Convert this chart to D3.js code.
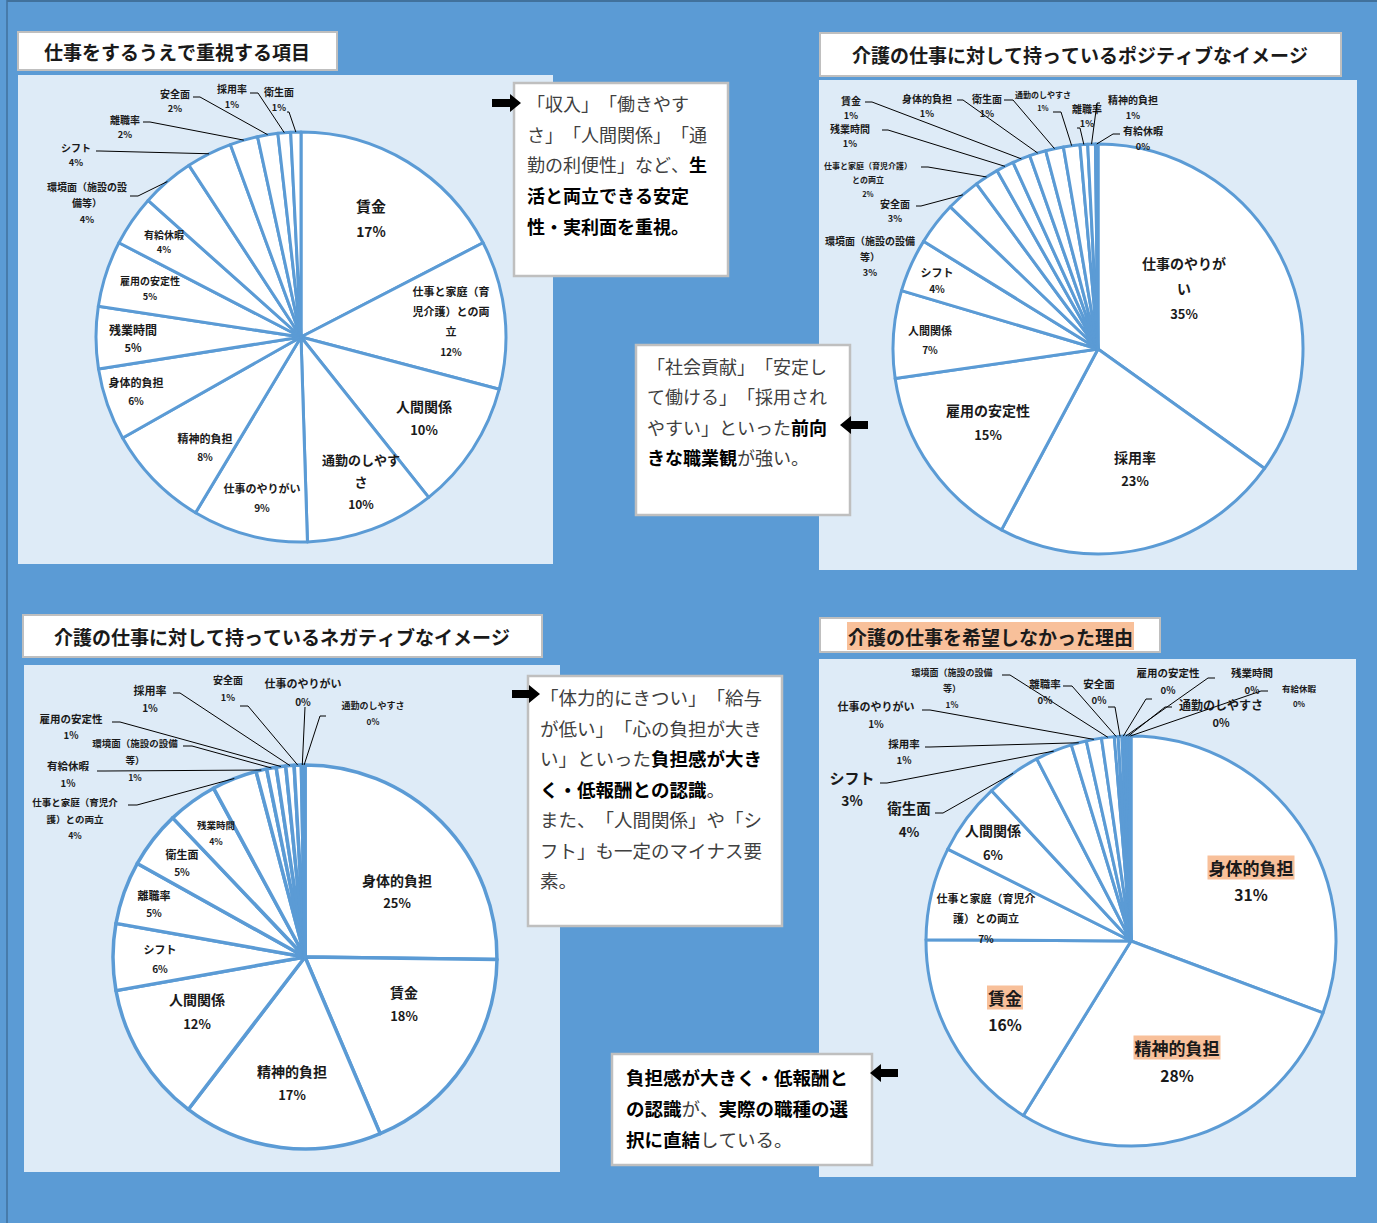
<!DOCTYPE html>
<html><head><meta charset="utf-8">
<script src="https://cdn.jsdelivr.net/npm/d3@7"></script>
<style>
body{margin:0;background:#5B9BD5;}
svg{display:block;font-family:"Noto Sans CJK JP","Noto Sans",sans-serif;text-spacing-trim:space-all;}
svg text{text-spacing-trim:space-all;font-kerning:none;}
</style>
</head><body><svg id="c" width="1377" height="1223"></svg>
<script>
// ---------------- DATA ----------------
const importanceTitle = "仕事をするうえで重視する項目";
const importanceCategories = ["賃金","仕事と家庭（育児介護）との両立","人間関係","通勤のしやすさ","仕事のやりがい","精神的負担","身体的負担","残業時間","雇用の安定性","有給休暇","環境面（施設の設備等）","シフト","離職率","安全面","採用率","衛生面"];
const importanceValues = [17.4,11.7,10.2,10.2,9.1,8.2,5.7,4.9,5.2,4.0,4.2,3.6,2.2,1.6,1.0,0.8];

const positiveTitle = "介護の仕事に対して持っているポジティブなイメージ";
const positiveCategories = ["仕事のやりがい","採用率","雇用の安定性","人間関係","シフト","環境面（施設の設備等）","安全面","仕事と家庭（育児介護）との両立","残業時間","賃金","身体的負担","衛生面","通勤のしやすさ","離職率","精神的負担","有給休暇"];
const positiveValues = [34.9,22.9,14.9,6.9,4.2,3.4,2.7,1.9,1.4,1.4,1.3,1.4,1.3,0.6,0.6,0.2];

const negativeTitle = "介護の仕事に対して持っているネガティブなイメージ";
const negativeCategories = ["身体的負担","賃金","精神的負担","人間関係","シフト","離職率","衛生面","残業時間","仕事と家庭（育児介護）との両立","有給休暇","環境面（施設の設備等）","雇用の安定性","採用率","安全面","仕事のやりがい","通勤のしやすさ"];
const negativeValues = [25.2,18.4,16.8,11.8,5.6,5.3,4.8,4.2,3.8,0.9,0.8,0.8,0.7,0.6,0.15,0.15];

const reasonTitle = "介護の仕事を希望しなかった理由";
const reasonCategories = ["身体的負担","精神的負担","賃金","仕事と家庭（育児介護）との両立","人間関係","衛生面","シフト","採用率","仕事のやりがい","環境面（施設の設備等）","離職率","安全面","雇用の安定性","残業時間","通勤のしやすさ","有給休暇"];
const reasonValues = [30.7,28.1,16.3,7.3,5.7,4.3,2.9,1.2,1.2,1.0,0.3,0.3,0.2,0.2,0.2,0.1];

// ---------------- LAYOUT ----------------
const C = {
  pageBlue:"#5B9BD5", plotBg:"#DEEBF7", slice:"#FFFFFF", sliceStroke:"#5B9BD5",
  boxBorder:"#BFBFBF", text:"#1a1a1a", soft:"#404040", highlight:"#F8C09A", frame:"#41719C"
};
const WF = "仕事と家庭（育児介護）との両立", ENV = "環境面（施設の設備等）";

const charts = [
 { title: importanceTitle, cats: importanceCategories, vals: importanceValues,
   plot:[18,75,535,489], tbox:[18,32,319,38], tx:44, ty:51,
   cx:301, cy:337, r:205, sw:3,
   labels:{
    "賃金":{x:371,y:205,size:15,lh:26},
    [WF]:{lines:["仕事と家庭（育","児介護）との両","立"],x:451,y:291,size:11,lh:20},
    "人間関係":{x:424,y:406,size:14,lh:23},
    "通勤のしやすさ":{lines:["通勤のしやす","さ"],x:361,y:459,size:13,lh:22},
    "仕事のやりがい":{x:262,y:488,size:11,lh:19},
    "精神的負担":{x:205,y:438,size:11,lh:18},
    "身体的負担":{x:136,y:382,size:11,lh:18},
    "残業時間":{x:133,y:329,size:12,lh:18},
    "雇用の安定性":{x:150,y:280,size:10,lh:16},
    "有給休暇":{x:164,y:234,size:10,lh:15},
    [ENV]:{lines:["環境面（施設の設","備等）"],x:87,y:186,size:10,lh:16.5,leader:[130,196,138]},
    "シフト":{x:76,y:147,size:10,lh:15,leader:[96,151,100]},
    "離職率":{x:125,y:119,size:10,lh:15,leader:[143,122,150]},
    "安全面":{x:175,y:93,size:10,lh:15,leader:[193,97,200]},
    "採用率":{x:232,y:88,size:10,lh:16,leader:[250,93,258]},
    "衛生面":{x:279,y:91,size:10,lh:16,leader:[287,112,289]}
   }},
 { title: positiveTitle, cats: positiveCategories, vals: positiveValues,
   plot:[819,80,538,490], tbox:[820,33,521,43], tx:852, ty:54,
   cx:1098, cy:349, r:205, sw:3,
   labels:{
    "仕事のやりがい":{lines:["仕事のやりが","い"],x:1184,y:263,size:14,lh:25},
    "採用率":{x:1135,y:457,size:14,lh:23},
    "雇用の安定性":{x:988,y:410,size:14,lh:24},
    "人間関係":{x:930,y:330,size:11,lh:19},
    "シフト":{x:937,y:272,size:11,lh:16},
    [ENV]:{lines:["環境面（施設の設備","等）"],x:870,y:240,size:10,lh:16},
    "安全面":{x:895,y:203,size:10,lh:15,leader:[916,206,921]},
    [WF]:{lines:["仕事と家庭（育児介護）","との両立"],x:868,y:165,size:8,lh:14,leader:[921,167,928]},
    "残業時間":{x:850,y:128,size:10,lh:15,leader:[882,130,888]},
    "賃金":{x:851,y:100,size:10,lh:15,leader:[865,102,872]},
    "身体的負担":{x:927,y:98,size:10,lh:15,leader:[957,100,963]},
    "衛生面":{x:987,y:98,size:10,lh:15,leader:[1004,100,1013]},
    "通勤のしやすさ":{x:1043,y:94,size:8,lh:13,leader:[1053,112,1061]},
    "離職率":{x:1087,y:108,size:10,lh:15,leader:[1077,128,1080]},
    "精神的負担":{x:1133,y:99,size:10,lh:16,leader:[1100,103,1097]},
    "有給休暇":{x:1143,y:130,size:10,lh:16,leader:[1120,134,1113]}
   }},
 { title: negativeTitle, cats: negativeCategories, vals: negativeValues,
   plot:[24,665,536,507], tbox:[23,615,519,42], tx:54, ty:636,
   cx:305, cy:957, r:192, sw:3.5,
   labels:{
    "身体的負担":{x:397,y:880,size:14,lh:22},
    "賃金":{x:404,y:992,size:14,lh:23},
    "精神的負担":{x:292,y:1071,size:14,lh:23},
    "人間関係":{x:197,y:999,size:14,lh:24},
    "シフト":{x:160,y:949,size:11,lh:19},
    "離職率":{x:154,y:895,size:11,lh:17},
    "衛生面":{x:182,y:854,size:11,lh:17},
    "残業時間":{x:216,y:825,size:9.5,lh:16},
    "採用率":{x:150,y:690,size:11,lh:17,leader:[173,693,180]},
    "安全面":{x:228,y:679,size:10,lh:18,leader:[240,706,248]},
    "仕事のやりがい":{x:303,y:683,size:11,lh:18,leader:[305,707,305]},
    "通勤のしやすさ":{x:373,y:705,size:9,lh:16,leader:[326,716,320]},
    "雇用の安定性":{x:71,y:718,size:10.5,lh:17,leader:[112,722,120]},
    [ENV]:{lines:["環境面（施設の設備","等）"],x:135,y:743,size:9.5,lh:17,leader:[183,746,192]},
    "有給休暇":{x:68,y:765,size:10.5,lh:18,leader:[97,771,105]},
    [WF]:{lines:["仕事と家庭（育児介","護）との両立"],x:75,y:802,size:9.5,lh:16.5,leader:[128,805,137]}
   }},
 { title: reasonTitle, cats: reasonCategories, vals: reasonValues, titleHighlight:true,
   plot:[819,659,537,518], tbox:[820,618,340,34], tx:848, ty:636,
   cx:1131, cy:941, r:205, sw:3,
   labels:{
    "身体的負担":{x:1251,y:867,size:17,lh:27,hl:true},
    "精神的負担":{x:1177,y:1047,size:17,lh:28,hl:true},
    "賃金":{x:1005,y:997,size:17,lh:27,hl:true},
    [WF]:{lines:["仕事と家庭（育児介","護）との両立"],x:986,y:898,size:11,lh:20},
    "人間関係":{x:993,y:830,size:14,lh:24},
    [ENV]:{lines:["環境面（施設の設備","等）"],x:952,y:672,size:9,lh:16,leader:[1002,675,1010]},
    "離職率":{x:1045,y:683,size:10.5,lh:17,leader:[1063,686,1072]},
    "安全面":{x:1099,y:683,size:10.5,lh:17,leader:[1108,707,1115]},
    "雇用の安定性":{x:1168,y:672,size:10.5,lh:18,leader:[1152,699,1146]},
    "残業時間":{x:1252,y:672,size:10.5,lh:18,leader:[1215,678,1208]},
    "通勤のしやすさ":{x:1221,y:704,size:12,lh:18,leader:[1172,707,1165]},
    "有給休暇":{x:1299,y:688,size:8.5,lh:15,leader:[1268,691,1261]},
    "仕事のやりがい":{x:876,y:706,size:11,lh:17,leader:[922,710,930]},
    "採用率":{x:904,y:743,size:10.5,lh:17,leader:[925,747,930]},
    "シフト":{x:852,y:777,size:15,lh:23,leader:[880,783,887]},
    "衛生面":{x:909,y:807,size:14.5,lh:24,leader:[935,813,943]}
   }}
];

const boxes = [
 {rect:[514,83,214,193], x:527, y0:103, lh:30.7, size:18, lines:[
   [["「収入」「働きやす",0]],
   [["さ」「人間関係」「通",0]],
   [["勤の利便性」など、",0],["生",1]],
   [["活と両立できる安定",1]],
   [["性・実利面を重視。",1]]],
  arrow:{from:492,to:521,y:103}},
 {rect:[636,345,214,170], x:647, y0:366, lh:30.3, size:18, lines:[
   [["「社会貢献」「安定し",0]],
   [["て働ける」「採用され",0]],
   [["やすい」といった",0],["前向",1]],
   [["きな職業観",1],["が強い。",0]]],
  arrow:{from:868,to:840,y:425}},
 {rect:[528,676,254,250], x:540, y0:697, lh:30.5, size:18.5, lines:[
   [["「体力的にきつい」「給与",0]],
   [["が低い」「心の負担が大き",0]],
   [["い」といった",0],["負担感が大き",1]],
   [["く・低報酬との認識",1],["。",0]],
   [["また、「人間関係」や「シ",0]],
   [["フト」も一定のマイナス要",0]],
   [["素。",0]]],
  arrow:{from:512,to:540,y:694}},
 {rect:[612,1054,260,111], x:626, y0:1077, lh:31, size:18.5, lines:[
   [["負担感が大きく・低報酬と",1]],
   [["の認識",1],["が、",0],["実際の職種の選",1]],
   [["択に直結",1],["している。",0]]],
  arrow:{from:898,to:870,y:1073}}
];

// ---------------- DRAW ----------------
const svg = d3.select("#c");
svg.append("rect").attr("width",1377).attr("height",1223).attr("fill",C.pageBlue);
svg.append("line").attr("x1",7).attr("x2",7).attr("y1",0).attr("y2",1223).attr("stroke",C.frame).attr("stroke-width",1.5);
svg.append("line").attr("x1",7).attr("x2",1377).attr("y1",1).attr("y2",1).attr("stroke",C.frame).attr("stroke-width",2);

function drawChart(ch){
  const g = svg.append("g");
  const [px,py,pw,ph] = ch.plot;
  g.append("rect").attr("x",px).attr("y",py).attr("width",pw).attr("height",ph).attr("fill",C.plotBg);
  const [bx,by,bw,bh] = ch.tbox;
  g.append("rect").attr("x",bx).attr("y",by).attr("width",bw).attr("height",bh)
    .attr("fill","#fff").attr("stroke",C.boxBorder).attr("stroke-width",2);
  const tt = g.append("text").attr("x",ch.tx).attr("y",ch.ty).attr("dominant-baseline","central")
    .attr("font-size",19).attr("font-weight","bold").attr("fill",C.text).text(ch.title);
  if (ch.titleHighlight){
    const bb = tt.node().getBBox();
    g.insert("rect", () => tt.node()).attr("x",bb.x-1).attr("y",by+4).attr("width",bb.width+2).attr("height",bh-6).attr("fill",C.highlight);
  }

  const data = ch.cats.map((c,i)=>({cat:c, val:ch.vals[i]}));
  const total = d3.sum(ch.vals);
  const pie = d3.pie().sort(null).value(d=>d.val);
  const arcs = pie(data);
  const arc = d3.arc().innerRadius(0).outerRadius(ch.r);
  const pg = g.append("g").attr("transform",`translate(${ch.cx},${ch.cy})`);
  pg.selectAll("path").data(arcs).join("path").attr("d",arc)
    .attr("fill",C.slice).attr("stroke",C.sliceStroke).attr("stroke-width",ch.sw).attr("stroke-linejoin","round");

  const lg = g.append("g");
  arcs.forEach(a=>{
    const L = ch.labels[a.data.cat];
    if(!L) return;
    const pct = Math.round(a.data.val/total*100) + "%";
    if (L.leader){
      const mid = (a.startAngle+a.endAngle)/2;
      const ex = ch.cx + ch.r*Math.sin(mid), ey = ch.cy - ch.r*Math.cos(mid);
      const [sx,sy,kx] = L.leader;
      lg.append("path").attr("d",`M${sx},${sy}H${kx}L${ex},${ey}`)
        .attr("fill","none").attr("stroke","#000").attr("stroke-width",1);
    }
    const lines = (L.lines || [a.data.cat]).concat([pct]);
    lines.forEach((t,i)=>{
      const isPct = i===lines.length-1;
      const fs = isPct ? L.size*0.92 : L.size;
      const te = lg.append("text").attr("x",L.x).attr("y",L.y+i*L.lh)
        .attr("text-anchor","middle").attr("dominant-baseline","central")
        .attr("font-size",fs).attr("font-weight","bold").attr("fill",C.text).text(t);
      if (L.hl && !isPct){
        const bb = te.node().getBBox();
        lg.insert("rect", () => te.node()).attr("x",bb.x-1).attr("y",bb.y+1).attr("width",bb.width+2).attr("height",bb.height-1).attr("fill",C.highlight);
      }
    });
  });
}
charts.forEach(drawChart);

function drawArrow(a){
  const dir = a.to > a.from ? 1 : -1;
  const tip = a.to, base = a.from, y = a.y;
  const neck = tip - dir*11;
  const p = `M${base},${y-4}L${neck},${y-4}L${neck},${y-9}L${tip},${y}L${neck},${y+9}L${neck},${y+4}L${base},${y+4}Z`;
  svg.append("path").attr("d",p).attr("fill","#000");
}
boxes.forEach(b=>{
  const [x,y,w,h] = b.rect;
  svg.append("rect").attr("x",x).attr("y",y).attr("width",w).attr("height",h)
    .attr("fill","#fff").attr("stroke",C.boxBorder).attr("stroke-width",2.5);
  b.lines.forEach((segs,i)=>{
    const t = svg.append("text").attr("x",b.x).attr("y",b.y0+i*b.lh).attr("dominant-baseline","central")
      .attr("font-size",b.size);
    segs.forEach(([s,bold])=>{
      t.append("tspan").text(s).attr("font-weight",bold?"bold":"normal").attr("fill",bold?"#000":C.soft);
    });
  });
  drawArrow(b.arrow);
});
</script></body></html>
